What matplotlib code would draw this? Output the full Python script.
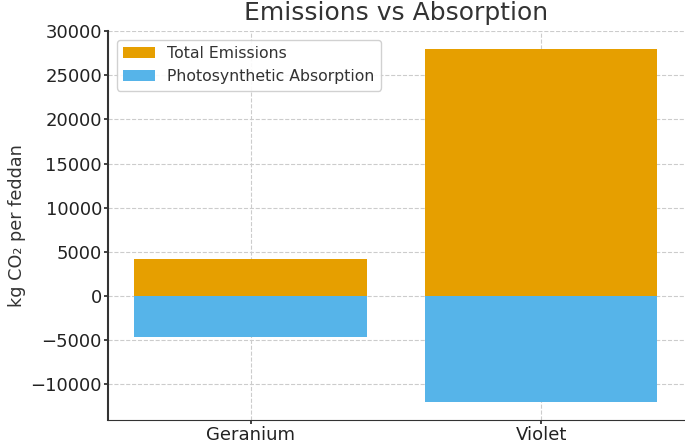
import matplotlib.pyplot as plt

plants = ['Geranium', 'Violet']
emissions = [4170, 28000]
absorption = [-4600, -12050]

plt.rcParams['text.color'] = '#333333'
plt.rcParams['axes.labelcolor'] = '#333333'
plt.rcParams['xtick.color'] = '#222222'
plt.rcParams['ytick.color'] = '#222222'

fig, ax = plt.subplots(figsize=(6.85, 4.45), dpi=100)
ax.bar(plants, emissions, width=0.8, color='#E69F00', label='Total Emissions')
ax.bar(plants, absorption, width=0.8, color='#56B4E9', label='Photosynthetic Absorption')

ax.set_title('Emissions vs Absorption', fontsize=18, pad=8)
ax.set_ylabel('kg CO₂ per feddan', fontsize=12.7, labelpad=3)
ax.tick_params(axis='both', labelsize=13, width=1.2, length=3, pad=1.5)
ax.grid(True, linestyle='--', color='#cccccc', linewidth=0.8)
ax.set_axisbelow(True)
ax.set_yticks(range(-10000, 30001, 5000))
for s in ['top', 'right']:
    ax.spines[s].set_visible(False)
ax.spines['left'].set_linewidth(1.5)
ax.spines['left'].set_color('#333333')
ax.spines['bottom'].set_color('#333333')
ax.legend(loc='upper left', fontsize=11.3, framealpha=0.9,
          bbox_to_anchor=(0.01, 0.985), borderaxespad=0.2)

fig.subplots_adjust(left=0.158, right=0.998, top=0.93, bottom=0.056)
fig.savefig('out.png')
